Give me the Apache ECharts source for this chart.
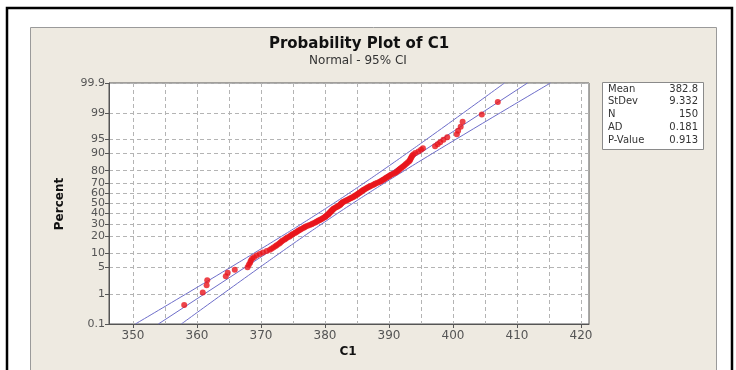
<!DOCTYPE html>
<html>
<head>
<meta charset="utf-8">
<script src="https://cdn.jsdelivr.net/npm/echarts@6/dist/echarts.min.js"></script>
<style>html,body{margin:0;padding:0;background:#fff}#c{width:736px;height:370px}</style>
</head>
<body>
<div id="c"></div>
<script>
// ---- data ----
const percentTicks = [0.1, 1, 5, 10, 20, 30, 40, 50, 60, 70, 80, 90, 95, 99, 99.9];
const xTicks = [350, 360, 370, 380, 390, 400, 410, 420];
const xGridValues = [350, 355, 360, 365, 370, 375, 380, 385, 390, 395, 400, 405, 410, 415, 420];
const c1 = [
  358.0, 360.9, 361.5, 361.6, 364.5, 364.8, 365.9, 367.9, 368.1, 368.3,
  368.4, 368.6, 368.9, 369.3, 369.8, 370.3, 370.9, 371.4, 371.7, 372.0,
  372.3, 372.5, 372.8, 373.0, 373.2, 373.4, 373.7, 373.9, 374.1, 374.4,
  374.6, 374.8, 375.0, 375.3, 375.5, 375.7, 375.9, 376.1, 376.3, 376.6,
  376.8, 377.0, 377.3, 377.6, 377.9, 378.1, 378.4, 378.6, 378.8, 379.0,
  379.2, 379.4, 379.6, 379.8, 380.0, 380.1, 380.2, 380.4, 380.5, 380.6,
  380.7, 380.8, 380.9, 381.0, 381.1, 381.2, 381.3, 381.4, 381.6, 381.8,
  382.0, 382.1, 382.3, 382.4, 382.5, 382.6, 382.7, 382.9, 383.1, 383.3,
  383.5, 383.7, 383.9, 384.1, 384.3, 384.5, 384.6, 384.8, 385.0, 385.1,
  385.3, 385.4, 385.6, 385.7, 385.9, 386.0, 386.2, 386.4, 386.6, 386.8,
  387.0, 387.2, 387.5, 387.7, 387.9, 388.2, 388.5, 388.7, 388.9, 389.1,
  389.3, 389.5, 389.7, 389.9, 390.1, 390.3, 390.6, 390.9, 391.1, 391.3,
  391.5, 391.6, 391.8, 392.0, 392.2, 392.4, 392.6, 392.8, 393.0, 393.2,
  393.3, 393.4, 393.5, 393.6, 393.8, 394.1, 394.6, 395.0, 395.3, 397.2,
  397.6, 398.0, 398.5, 399.1, 400.6, 400.8, 401.2, 401.5, 404.5, 407.0
];
const statLabels = ['Mean', 'StDev', 'N', 'AD', 'P-Value'];
const statValues = ['382.8', '9.332', '150', '0.181', '0.913'];
const ciLevel = 0.95;

// ---- helpers ----
function probit(p) {
  const a=[-3.969683028665376e+01,2.209460984245205e+02,-2.759285104469687e+02,1.383577518672690e+02,-3.066479806614716e+01,2.506628277459239e+00];
  const b=[-5.447609879822406e+01,1.615858368580409e+02,-1.556989798598866e+02,6.680131188771972e+01,-1.328068155288572e+01];
  const c=[-7.784894002430293e-03,-3.223964580411365e-01,-2.400758277161838e+00,-2.549732539343734e+00,4.374664141464968e+00,2.938163982698783e+00];
  const d=[7.784695709041462e-03,3.224671290700398e-01,2.445134137142996e+00,3.754408661907416e+00];
  const pl=0.02425, ph=1-pl;
  if (p < pl) { const q=Math.sqrt(-2*Math.log(p)); return (((((c[0]*q+c[1])*q+c[2])*q+c[3])*q+c[4])*q+c[5])/((((d[0]*q+d[1])*q+d[2])*q+d[3])*q+1); }
  if (p > ph) { const q=Math.sqrt(-2*Math.log(1-p)); return -(((((c[0]*q+c[1])*q+c[2])*q+c[3])*q+c[4])*q+c[5])/((((d[0]*q+d[1])*q+d[2])*q+d[3])*q+1); }
  const q=p-0.5, r=q*q;
  return (((((a[0]*r+a[1])*r+a[2])*r+a[3])*r+a[4])*r+a[5])*q/(((((b[0]*r+b[1])*r+b[2])*r+b[3])*r+b[4])*r+1);
}
const zTicks = percentTicks.map(p => probit(p / 100));
const yMin = zTicks[0], yMax = zTicks[zTicks.length - 1];
const n = c1.length;
const points = c1.map((v, i) => [v, probit((i + 1 - 0.3) / (n + 0.4))]);
const mean = parseFloat(statValues[0]), sd = parseFloat(statValues[1]), N = parseFloat(statValues[2]);
const zc = probit(1 - (1 - ciLevel) / 2);
const fitLine = zTicks.map(z => [mean + z * sd, z]);
const half = z => zc * sd * Math.sqrt(1 / N + z * z / (2 * N));
const ciLow = zTicks.map(z => [mean + z * sd - half(z), z]);
const ciHigh = zTicks.map(z => [mean + z * sd + half(z), z]);

const FONT = '"DejaVu Sans", Verdana, sans-serif';
const lineCol = '#6d6dc9';
const gridDash = { color: '#b4b4b4', type: [4, 3], width: 1 };

const chart = echarts.init(document.getElementById('c'), null, { renderer: 'canvas' });

const statGraphics = [];
statLabels.forEach((l, i) => {
  statGraphics.push({ type: 'text', x: 608, y: 84 + i * 12.8, z: 50,
    style: { text: l, font: '10px ' + FONT, fill: '#333', textVerticalAlign: 'top' } });
  statGraphics.push({ type: 'text', x: 698, y: 84 + i * 12.8, z: 50,
    style: { text: statValues[i], font: '10px ' + FONT, fill: '#333', textAlign: 'right', textVerticalAlign: 'top' } });
});

chart.setOption({
  animation: false,
  backgroundColor: '#ffffff',
  graphic: [
    { type: 'rect', z: -20, shape: { x: 30.5, y: 27.5, width: 686, height: 360 }, style: { fill: '#eeeae1', stroke: '#9a9a9a', lineWidth: 1 } },
    { type: 'polyline', z: 60, shape: { points: [[7, 372], [7, 8], [732, 8], [732, 372]] }, style: { stroke: '#000', lineWidth: 2.5, fill: null } },
    { type: 'text', x: 359, y: 37, z: 50, style: { text: 'Probability Plot of C1', font: 'bold 15px ' + FONT, fill: '#111', textAlign: 'center' } },
    { type: 'text', x: 358, y: 55, z: 50, style: { text: 'Normal - 95% CI', font: '12px ' + FONT, fill: '#333', textAlign: 'center' } },
    { type: 'text', x: 60, y: 204, z: 50, rotation: Math.PI / 2, style: { text: 'Percent', font: 'bold 12px ' + FONT, fill: '#111', textAlign: 'center', textVerticalAlign: 'middle' } },
    { type: 'text', x: 348, y: 346, z: 50, style: { text: 'C1', font: 'bold 12px ' + FONT, fill: '#111', textAlign: 'center' } },
    { type: 'rect', z: 40, shape: { x: 602.5, y: 82.5, width: 101, height: 67 }, style: { fill: '#fff', stroke: '#8a8a8a', lineWidth: 1 } }
  ].concat(statGraphics),
  grid: { left: 109, top: 83, width: 480, height: 241, show: true, backgroundColor: '#fff', borderColor: '#555', borderWidth: 1 },
  xAxis: [
    { type: 'value', min: 346.25, max: 421.25,
      axisLine: { show: true, onZero: false, lineStyle: { color: '#555' } },
      axisTick: { show: true, length: 4, lineStyle: { color: '#555' }, customValues: xTicks },
      axisLabel: { customValues: xTicks, color: '#555', fontSize: 12, fontFamily: FONT, margin: 6 },
      splitLine: { show: false } },
    { type: 'value', min: 346.25, max: 421.25, position: 'top',
      axisLine: { show: false, onZero: false }, axisTick: { show: false, customValues: xGridValues },
      axisLabel: { show: false, customValues: xGridValues },
      splitLine: { show: true, lineStyle: gridDash } }
  ],
  yAxis: [
    { type: 'value', min: yMin, max: yMax,
      axisLine: { show: true, onZero: false, lineStyle: { color: '#555' } },
      axisTick: { show: true, length: 4, lineStyle: { color: '#555' }, customValues: zTicks },
      axisLabel: { customValues: zTicks, color: '#555', fontSize: 11, fontFamily: FONT, margin: 4,
        formatter: v => { let bi = 0; zTicks.forEach((z, i) => { if (Math.abs(z - v) < Math.abs(zTicks[bi] - v)) bi = i; }); return String(percentTicks[bi]); } },
      splitLine: { show: true, lineStyle: gridDash } }
  ],
  series: [
    { type: 'line', data: ciLow, showSymbol: false, symbol: 'none', smooth: true, lineStyle: { color: lineCol, width: 1 }, z: 3, silent: true },
    { type: 'line', data: fitLine, showSymbol: false, symbol: 'none', lineStyle: { color: lineCol, width: 1 }, z: 3, silent: true },
    { type: 'line', data: ciHigh, showSymbol: false, symbol: 'none', smooth: true, lineStyle: { color: lineCol, width: 1 }, z: 3, silent: true },
    { type: 'scatter', data: points, symbol: 'circle', symbolSize: 6, itemStyle: { color: '#e8141c' }, z: 5, silent: true }
  ]
});
</script>
</body>
</html>
